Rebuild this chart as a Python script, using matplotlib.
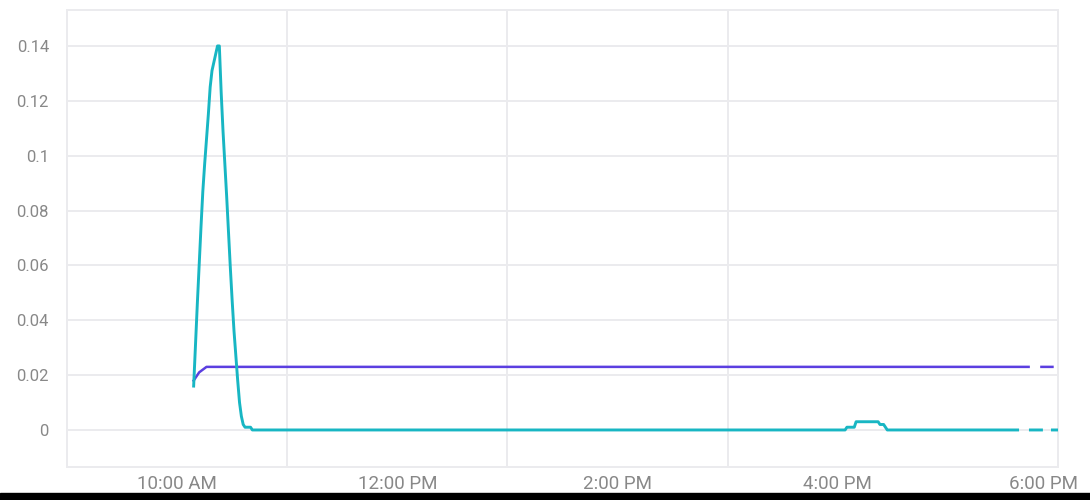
import numpy as np
import matplotlib
matplotlib.use('Agg')
import matplotlib.pyplot as plt
import matplotlib.transforms as mtransforms
from matplotlib.patches import Rectangle

# readings per minute, None = gap in data
cyan_times = ["10:09", "10:10", "10:11", "10:12", "10:13", "10:14", "10:15", "10:16",
              "10:17", "10:18", "10:19", "10:20", "10:21", "10:22", "10:23", "10:24",
              "10:25", "10:26", "10:27", "10:28", "10:29", "10:30", "10:31", "10:32",
              "10:33", "10:34", "10:35", "10:36", "10:37", "10:40", "10:41",
              "16:04", "16:05", "16:09", "16:10", "16:22", "16:23", "16:25", "16:27",
              "17:38", None, "17:45", "17:51", None, "17:57", "18:00"]
cyan_values = [0.016, 0.031, 0.046, 0.060, 0.074, 0.087, 0.097, 0.106,
               0.115, 0.125, 0.131, 0.134, 0.137, 0.140, 0.140, 0.123,
               0.109, 0.097, 0.085, 0.072, 0.059, 0.047, 0.036, 0.027,
               0.018, 0.010, 0.005, 0.002, 0.001, 0.001, 0.0,
               0.0, 0.001, 0.001, 0.003, 0.003, 0.002, 0.002, 0.0,
               0.0, None, 0.0, 0.0, None, 0.0, 0.0]

purple_times = ["10:09", "10:10", "10:11", "10:12", "10:13", "10:14", "10:15", "10:16",
                "17:44", None, "17:51", "17:57"]
purple_values = [0.018, 0.019, 0.020, 0.021, 0.0215, 0.022, 0.0225, 0.023,
                 0.023, None, 0.023, 0.023]

x_ticks = [10, 12, 14, 16, 18]
x_labels = ["10:00 AM", "12:00 PM", "2:00 PM", "4:00 PM", "6:00 PM"]
x_grid = [11, 13, 15]
y_ticks = [0, 0.02, 0.04, 0.06, 0.08, 0.1, 0.12, 0.14]
y_labels = ["0", "0.02", "0.04", "0.06", "0.08", "0.1", "0.12", "0.14"]


def to_hours(times):
    out = []
    for t in times:
        if t is None:
            out.append(np.nan)
        else:
            h, m = t.split(":")
            out.append(int(h) + int(m) / 60)
    return np.array(out)


plt.rcParams['font.family'] = ['Roboto', 'DejaVu Sans']

fig = plt.figure(figsize=(10.9, 5.0), dpi=100)
ax = fig.add_axes([0.0615, 0.066, 0.9091, 0.914])

grid_col = '#ebebee'
for y in y_ticks:
    ax.axhline(y, color=grid_col, lw=1.4, zorder=0)
for x in x_grid:
    ax.axvline(x, color=grid_col, lw=1.4, zorder=0)

ax.plot(to_hours(purple_times), np.array(purple_values, dtype=float),
        color='#5b3fe0', lw=1.8, zorder=3)
ax.plot(to_hours(cyan_times), np.array(cyan_values, dtype=float),
        color='#18b6c3', lw=2.1, zorder=4)

ax.set_xlim(9, 18)
ax.set_ylim(-0.0135, 0.1531)
ax.set_xticks(x_ticks)
ax.set_xticklabels(x_labels)
ax.set_yticks(y_ticks)
ax.set_yticklabels(y_labels)
ax.tick_params(axis='x', length=0, pad=6, labelsize=13.5, labelcolor='#888888')
ax.tick_params(axis='y', length=0, pad=13, labelsize=12, labelcolor='#888888')
for s in ax.spines.values():
    s.set_color(grid_col)
    s.set_linewidth(1.4)

# last label is pushed inside the frame
last = ax.get_xticklabels()[-1]
last.set_horizontalalignment('right')
last.set_transform(last.get_transform() +
                   mtransforms.ScaledTranslation(0.2, 0, fig.dpi_scale_trans))

# black strip along the bottom edge of the screenshot
fig.patches.append(Rectangle((0, 0), 1, 0.015, transform=fig.transFigure,
                             color='black', zorder=10))

fig.savefig('out.png', dpi=100)
